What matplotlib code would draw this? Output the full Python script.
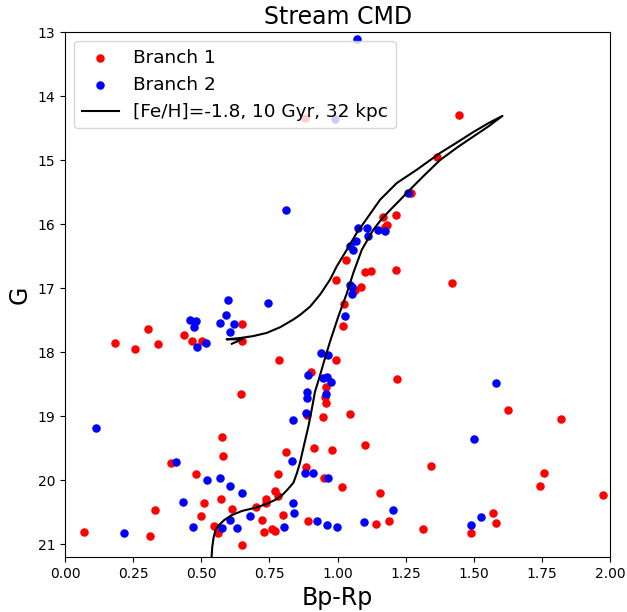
import matplotlib
matplotlib.use("Agg")
import matplotlib.pyplot as plt

# Branch 1 members (colour, magnitude)
branch1_bprp = [0.881, 1.446, 1.364, 1.270, 1.166, 1.216, 1.180, 1.174, 1.031, 1.100,
                1.123, 1.213, 0.993, 1.419, 1.064, 1.087, 1.023, 1.019, 1.218, 0.650,
                0.306, 0.438, 0.185, 0.257, 0.340, 0.465, 0.502, 0.650, 0.785, 0.994,
                0.903, 0.958, 0.955, 0.957, 0.647, 0.947, 0.887, 1.045, 0.577, 0.580,
                0.812, 0.914, 0.980, 1.102, 0.390, 0.883, 0.783, 0.950, 0.482, 1.016,
                0.772, 0.783, 0.736, 0.736, 0.572, 0.511, 0.700, 0.614, 0.331, 0.499,
                0.801, 0.893, 0.724, 0.546, 0.563, 0.760, 0.769, 0.730, 0.070, 0.312,
                0.651, 1.626, 1.818, 1.342, 1.758, 1.744, 1.972, 1.155, 1.571, 1.582,
                1.490, 1.314, 1.141, 1.189]
branch1_g = [14.34, 14.30, 14.95, 15.51, 15.89, 15.86, 16.02, 16.05, 16.56, 16.75,
             16.73, 16.72, 16.87, 16.92, 17.03, 16.98, 17.25, 17.59, 18.42, 17.56,
             17.64, 17.73, 17.86, 17.95, 17.87, 17.83, 17.82, 17.82, 18.12, 18.13,
             18.31, 18.54, 18.70, 18.79, 18.65, 19.01, 18.99, 18.97, 19.32, 19.62,
             19.56, 19.49, 19.53, 19.45, 19.73, 19.79, 19.90, 19.96, 19.91, 20.11,
             20.17, 20.25, 20.29, 20.36, 20.30, 20.35, 20.42, 20.45, 20.47, 20.56,
             20.54, 20.64, 20.62, 20.72, 20.82, 20.76, 20.80, 20.81, 20.81, 20.87,
             21.01, 18.91, 19.04, 19.78, 19.89, 20.09, 20.23, 20.20, 20.51, 20.67,
             20.83, 20.77, 20.69, 20.64]

# Branch 2 members (colour, magnitude)
branch2_bprp = [0.992, 1.070, 1.259, 0.811, 1.076, 1.107, 1.150, 1.173, 1.111, 1.068,
                1.046, 1.058, 1.046, 1.053, 1.054, 1.029, 0.598, 0.746, 0.460, 0.481,
                0.473, 0.592, 0.570, 0.621, 0.606, 0.517, 0.483, 0.939, 0.965, 0.893,
                0.948, 0.960, 0.975, 0.959, 0.886, 0.889, 0.883, 0.838, 0.114, 0.834,
                0.409, 0.881, 0.910, 0.964, 0.520, 0.568, 0.607, 0.648, 0.433, 0.835,
                0.840, 0.679, 0.925, 0.961, 0.997, 0.607, 0.575, 0.470, 0.632, 0.804,
                0.215, 1.583, 1.499, 1.202, 1.528, 1.490, 1.096]
branch2_g = [14.36, 13.11, 15.52, 15.78, 16.06, 16.06, 16.10, 16.11, 16.18, 16.27,
             16.34, 16.41, 16.95, 16.99, 17.09, 17.44, 17.18, 17.24, 17.50, 17.52,
             17.61, 17.42, 17.54, 17.56, 17.68, 17.85, 17.92, 18.01, 18.05, 18.36,
             18.40, 18.39, 18.47, 18.65, 18.62, 18.71, 18.95, 19.06, 19.18, 19.70,
             19.72, 19.89, 19.89, 19.96, 19.99, 19.97, 20.09, 20.20, 20.34, 20.36,
             20.52, 20.56, 20.64, 20.70, 20.73, 20.63, 20.75, 20.73, 20.74, 20.73,
             20.82, 18.49, 19.36, 20.47, 20.58, 20.70, 20.66]

# Isochrone track: MS -> RGB tip -> AGB -> HB
iso_bprp = [0.537, 0.540, 0.545, 0.552, 0.565, 0.585, 0.610, 0.650, 0.700, 0.740,
            0.775, 0.800, 0.820, 0.838, 0.850, 0.862, 0.877, 0.893, 0.905, 0.917,
            0.933, 0.950, 0.972, 1.003, 1.034, 1.058, 1.089, 1.131, 1.160, 1.193,
            1.230, 1.266, 1.320, 1.376, 1.440, 1.499, 1.555, 1.605,
            1.555, 1.499, 1.440, 1.376, 1.291, 1.217, 1.156, 1.113, 1.070, 1.034,
            0.997, 0.972, 0.936, 0.899, 0.862, 0.838, 0.790, 0.740, 0.690, 0.642,
            0.593, 0.650, 0.612]
iso_g = [21.25, 21.05, 20.90, 20.78, 20.70, 20.62, 20.55, 20.48, 20.43, 20.37,
         20.30, 20.22, 20.13, 20.04, 19.90, 19.73, 19.45, 19.16, 18.90, 18.62,
         18.40, 18.15, 17.84, 17.44, 17.08, 16.76, 16.40, 16.09, 15.93, 15.78,
         15.62, 15.46, 15.23, 15.00, 14.80, 14.63, 14.47, 14.31,
         14.42, 14.56, 14.72, 14.89, 15.15, 15.36, 15.62, 15.88, 16.14, 16.40,
         16.66, 16.87, 17.10, 17.29, 17.42, 17.49, 17.61, 17.70, 17.75, 17.78,
         17.80, 17.80, 17.87]

fig = plt.figure(figsize=(6.27, 6.12), dpi=100)
ax = fig.add_axes([0.1037, 0.0899, 0.8694, 0.8578])

ax.scatter(branch1_bprp, branch1_g, s=26, color="red", label="Branch 1")
ax.scatter(branch2_bprp, branch2_g, s=26, color="blue", label="Branch 2")
ax.plot(iso_bprp, iso_g, color="black", lw=1.5, label="[Fe/H]=-1.8, 10 Gyr, 32 kpc")

ax.set_xlim(0, 2.0)
ax.set_ylim(21.2, 13)
ax.set_xlabel("Bp-Rp", fontsize=17)
ax.set_ylabel("G", fontsize=17)
ax.set_title("Stream CMD", fontsize=17)
ax.tick_params(labelsize=10)
ax.legend(loc="upper left", fontsize=13.3)

fig.savefig("out.png", dpi=100)
